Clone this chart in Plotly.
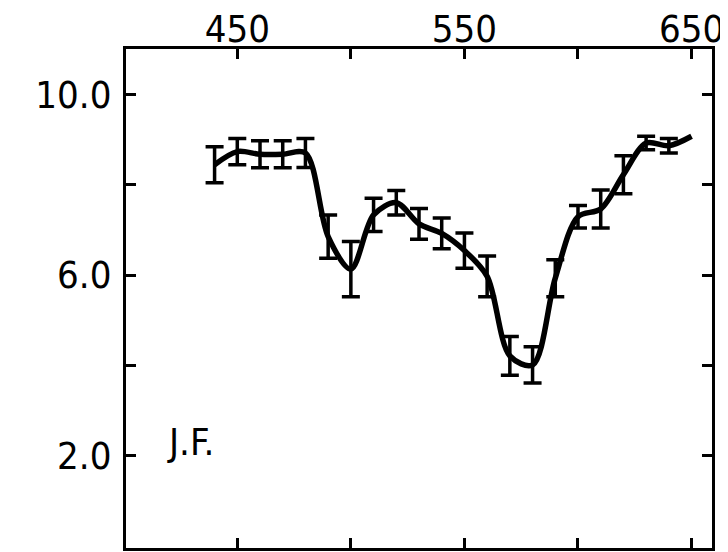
import plotly.graph_objects as go

# Data
wavelength = [440, 450, 460, 470, 480, 490, 500, 510, 520, 530, 540,
              550, 560, 570, 580, 590, 600, 610, 620, 630, 640]
value = [8.44, 8.73, 8.67, 8.67, 8.70, 6.85, 6.13, 7.33, 7.60, 7.13, 6.92,
         6.54, 5.97, 4.21, 4.01, 5.93, 7.29, 7.46, 8.22, 8.92, 8.86]
err = [0.40, 0.29, 0.30, 0.30, 0.32, 0.48, 0.61, 0.37, 0.27, 0.34, 0.34,
       0.39, 0.45, 0.43, 0.40, 0.41, 0.25, 0.42, 0.42, 0.15, 0.16]

curve_end_wavelength = [650]
curve_end_value = [9.07]

x_ticks = [450, 500, 550, 600, 650]
x_labels = ["450", "", "550", "", "650"]
y_ticks = [2, 4, 6, 8, 10]
y_labels = ["2.0", "", "6.0", "", "10.0"]

label_text = "J.F."

FONT = "DejaVu Sans Condensed, DejaVu Sans, sans-serif"

fig = go.Figure()

fig.add_trace(go.Scatter(
    x=wavelength + curve_end_wavelength,
    y=value + curve_end_value,
    mode="lines",
    line=dict(color="black", width=5.5, shape="spline", smoothing=0.9),
    showlegend=False,
    hoverinfo="skip",
))

fig.add_trace(go.Scatter(
    x=wavelength,
    y=value,
    mode="markers",
    marker=dict(size=1, color="black"),
    error_y=dict(type="data", array=err, visible=True,
                 color="black", thickness=3.5, width=9),
    showlegend=False,
))

fig.add_annotation(
    x=418, y=2.3, xref="x", yref="y", text=label_text,
    showarrow=False, xanchor="left", yanchor="middle",
    font=dict(family=FONT, size=38, color="black"),
)

axis_common = dict(
    showgrid=False, zeroline=False, automargin=False,
    showline=True, linecolor="black", linewidth=3,
    mirror="ticks", ticks="inside", ticklen=10, tickwidth=2.5,
    tickcolor="black",
    tickfont=dict(family=FONT, size=38, color="black"),
)

fig.update_xaxes(
    range=[401, 659], side="top",
    tickmode="array", tickvals=x_ticks, ticktext=x_labels,
    ticklabelstandoff=-11,
    **axis_common,
)
fig.update_yaxes(
    range=[-0.04, 11.0],
    tickmode="array", tickvals=y_ticks, ticktext=y_labels,
    ticklabelstandoff=4,
    **axis_common,
)

fig.update_layout(
    width=720, height=544,
    margin=dict(l=118, r=16, t=41, b=4, autoexpand=False),
    paper_bgcolor="white", plot_bgcolor="white",
)

fig.write_html("out.html")
